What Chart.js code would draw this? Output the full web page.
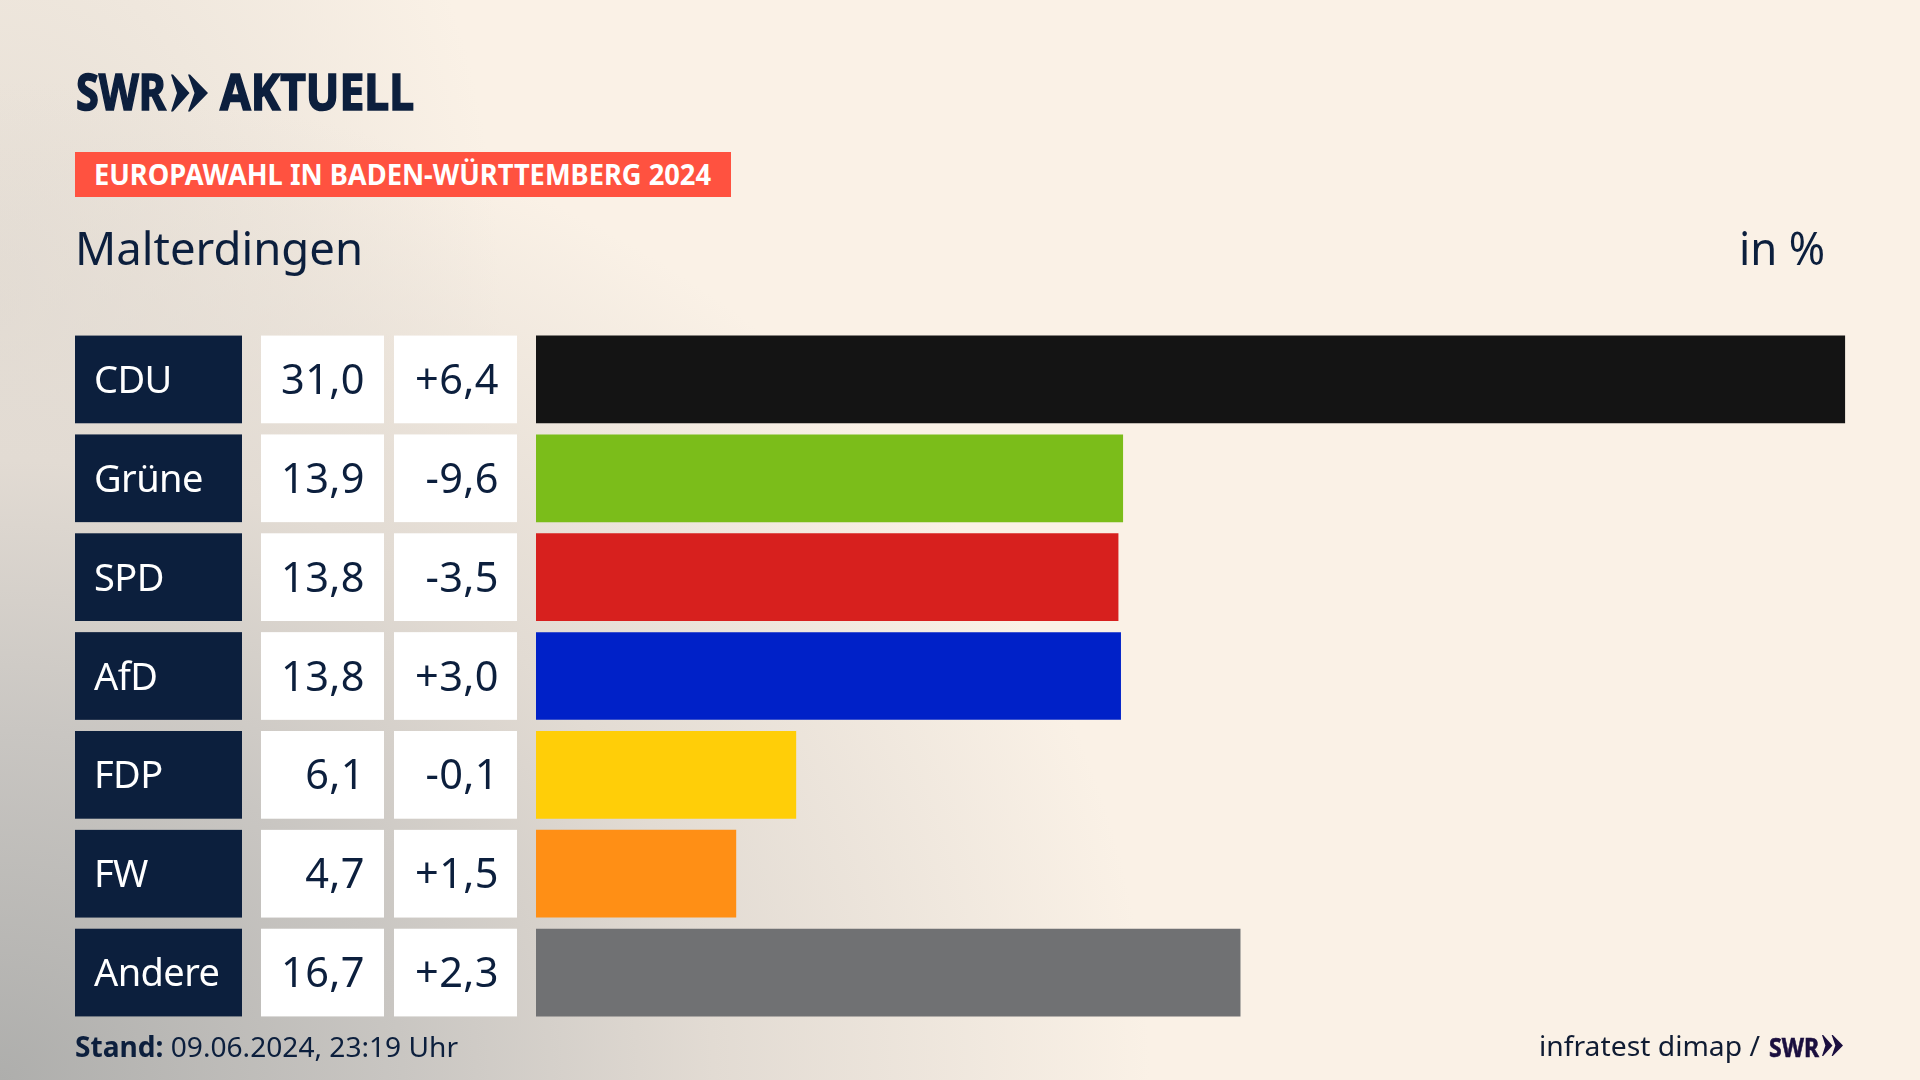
<!DOCTYPE html>
<html lang="de">
<head>
<meta charset="utf-8">
<title>Europawahl Malterdingen</title>
<script src="https://cdn.jsdelivr.net/npm/chart.js@4/dist/chart.umd.min.js"></script>
<style>
    html, body { margin: 0; padding: 0; }
    body {
        width: 1920px; height: 1080px; overflow: hidden; position: relative;
        font-family: "Noto Sans", sans-serif; color: #0c1f3d;
        background:
            radial-gradient(ellipse 1150px 1000px at 0 1080px, #aeaeac 0%, #c9c6c2 35%, #e2dbd3 62%, rgba(250,241,230,0) 100%),
            radial-gradient(ellipse 500px 700px at 0 300px, #e4ddd4 0%, rgba(250,241,230,0) 100%),
            #faf1e6;
    }
    #chart { position: absolute; left: 0; top: 0; }
    .txt { position: absolute; white-space: nowrap; transform-origin: left top; line-height: 1; }
    .logo { font-weight: 700; -webkit-text-stroke: 1.6px #0c1f3d; }
    #badge { position: absolute; left: 75px; top: 152px; width: 656px; height: 45px; background: #ff5240; }
    svg { position: absolute; }
</style>
</head>
<body>
<canvas id="chart" width="1920" height="1080"></canvas>

<div class="txt logo" style="left:76px;top:66px;font-size:50px" data-fit="90">SWR</div>
<svg style="left:171px;top:74px" width="37" height="38" viewBox="0 0 37 37"><path fill="#0c1f3d" d="M0 0 L2 0 L18.5 18.5 L2 37 L0 37 L6 18.5 Z M17 0 L19 0 L37 18.5 L19 37 L17 37 L23.5 18.5 Z"/></svg>
<div class="txt logo" style="left:220px;top:66px;font-size:50px" data-fit="194">AKTUELL</div>

<div id="badge"></div>
<div class="txt" style="left:94px;top:160px;font-size:28px;font-weight:700;color:#fff" data-fit="617">EUROPAWAHL IN BADEN-WÜRTTEMBERG 2024</div>

<div class="txt" style="left:75px;top:225px;font-size:45px" data-fit="288">Malterdingen</div>
<div class="txt" style="left:1739px;top:225px;font-size:45px" data-fit="86">in %</div>

<div class="txt" style="left:75px;top:1032px;font-size:28px" data-fit="383"><b>Stand:</b> 09.06.2024, 23:19 Uhr</div>
<div class="txt" style="left:1539px;top:1031px;font-size:28px;color:#101c33" data-fit="221">infratest dimap /</div>
<div class="txt" style="left:1769px;top:1033px;font-size:27px;font-weight:700;color:#1b0f3f;-webkit-text-stroke:0.6px #1b0f3f" data-fit="50">SWR</div>
<svg style="left:1821px;top:1035px" width="23" height="21" viewBox="0 0 37 37"><path fill="#1b0f3f" d="M0 0 L2 0 L18.5 18.5 L2 37 L0 37 L6 18.5 Z M17 0 L19 0 L37 18.5 L19 37 L17 37 L23.5 18.5 Z"/></svg>

<script>
// Data
const parties = ['CDU', 'Grüne', 'SPD', 'AfD', 'FDP', 'FW', 'Andere'];
const shareLabels = ['31,0', '13,9', '13,8', '13,8', '6,1', '4,7', '16,7'];
const changeLabels = ['+6,4', '-9,6', '-3,5', '+3,0', '-0,1', '+1,5', '+2,3'];
const shareValues = [31.0, 13.9, 13.79, 13.85, 6.16, 4.74, 16.68];
const barColors = ['#141414', '#7bbd1a', '#d7201e', '#0021c8', '#ffce08', '#ff8f15', '#707173'];

// Squeeze the DOM texts to the widths of the original typeface
document.querySelectorAll('[data-fit]').forEach(el => {
    const w = el.getBoundingClientRect().width;
    el.style.transform = `scaleX(${parseFloat(el.dataset.fit) / w})`;
});

const CELL_HEIGHT = 87.7;

// Table to the left of the bars, one row per category
const tableCells = {
    id: 'tableCells',
    beforeDatasetsDraw(chart) {
        const { ctx, scales: { y } } = chart;
        ctx.save();
        ctx.textBaseline = 'alphabetic';
        parties.forEach((party, i) => {
            const mid = y.getPixelForValue(i);
            const top = mid - CELL_HEIGHT / 2;
            const base = mid + 14.5;

            ctx.fillStyle = '#0c1f3d';
            ctx.fillRect(75, top, 167, CELL_HEIGHT);
            ctx.fillStyle = '#ffffff';
            ctx.fillRect(261, top, 123, CELL_HEIGHT);
            ctx.fillRect(394, top, 123, CELL_HEIGHT);

            ctx.fillStyle = '#ffffff';
            ctx.font = '38px "Noto Sans"';
            ctx.letterSpacing = '-0.6px';
            ctx.textAlign = 'left';
            ctx.fillText(party, 94, base - 1);

            ctx.fillStyle = '#0c1f3d';
            ctx.font = '41.5px "Noto Sans"';
            ctx.letterSpacing = '0.4px';
            ctx.textAlign = 'right';
            ctx.fillText(shareLabels[i], 365, base);
            ctx.fillText(changeLabels[i], 499, base);
        });
        ctx.restore();
    }
};

new Chart(document.getElementById('chart'), {
    type: 'bar',
    data: {
        labels: parties,
        datasets: [{
            data: shareValues,
            backgroundColor: barColors,
            borderWidth: 0,
            barPercentage: 0.887,
            categoryPercentage: 1
        }]
    },
    options: {
        indexAxis: 'y',
        responsive: false,
        animation: false,
        devicePixelRatio: 1,
        layout: { padding: { left: 536, right: 74.7, top: 330, bottom: 58 } },
        scales: {
            x: { display: false, min: 0, max: 31 },
            y: { display: false }
        },
        plugins: { legend: { display: false }, tooltip: { enabled: false } }
    },
    plugins: [tableCells]
});
</script>
</body>
</html>
